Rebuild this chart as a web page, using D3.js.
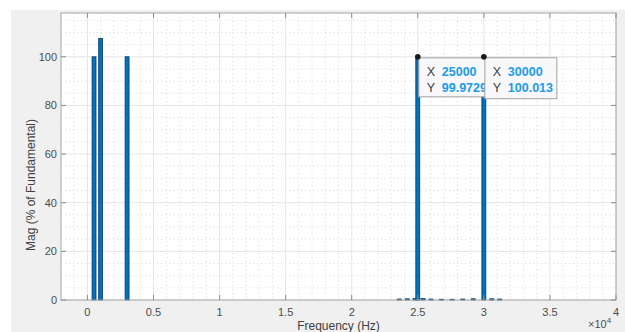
<!DOCTYPE html>
<html>
<head>
<meta charset="utf-8">
<script src="https://cdn.jsdelivr.net/npm/d3@7"></script>
<style>
  html, body { margin: 0; padding: 0; background: #fff; }
  svg { display: block; font-family: "Liberation Sans", Arial, sans-serif; }
</style>
</head>
<body>
<svg id="chart" width="625" height="332"></svg>
<script>
// ---- data ----
var freqs = [500, 1000, 3000, 23600, 24200, 24800, 25000, 25400, 26000, 26800, 27600, 28400, 29200, 30000, 30600, 31200];
var mags  = [100, 107.5, 100, 0.4, 0.5, 0.6, 99.9729, 0.6, 0.4, 0.3, 0.3, 0.4, 0.5, 100.013, 0.5, 0.4];
var xTicks = [0, 5000, 10000, 15000, 20000, 25000, 30000, 35000, 40000];
var xTickLabels = ["0", "0.5", "1", "1.5", "2", "2.5", "3", "3.5", "4"];
var yTicks = [0, 20, 40, 60, 80, 100];
var tips = [
  { x: 25000, y: 99.9729, xs: "25000", ys: "99.9729" },
  { x: 30000, y: 100.013, xs: "30000", ys: "100.013" }
];

var svg = d3.select("#chart");
var L = 61, R = 616, T = 13, B = 300;

// figure background
svg.append("rect").attr("x", 11).attr("y", 10).attr("width", 625 - 11).attr("height", 332 - 10)
  .attr("fill", "#f0f0f0");
svg.append("rect").attr("x", L).attr("y", T).attr("width", R - L).attr("height", B - T)
  .attr("fill", "#ffffff");

var x = d3.scaleLinear().domain([-2000, 40000]).range([L, R]);
var y = d3.scaleLinear().domain([0, 118]).range([B, T]);

// minor grid (dotted)
var g = svg.append("g");
d3.range(-1000, 40001, 1000).filter(function (v) { return v % 5000 !== 0; }).forEach(function (v) {
  g.append("line").attr("x1", x(v)).attr("x2", x(v)).attr("y1", T).attr("y2", B)
    .attr("stroke", "#d8d8d8").attr("stroke-width", 1).attr("stroke-dasharray", "1 3");
});
d3.range(5, 118, 5).filter(function (v) { return v % 20 !== 0; }).forEach(function (v) {
  g.append("line").attr("x1", L).attr("x2", R).attr("y1", y(v)).attr("y2", y(v))
    .attr("stroke", "#d8d8d8").attr("stroke-width", 1).attr("stroke-dasharray", "1 3");
});
// major grid
xTicks.forEach(function (v) {
  g.append("line").attr("x1", x(v)).attr("x2", x(v)).attr("y1", T).attr("y2", B)
    .attr("stroke", "#e6e6e6").attr("stroke-width", 1);
});
yTicks.forEach(function (v) {
  g.append("line").attr("x1", L).attr("x2", R).attr("y1", y(v)).attr("y2", y(v))
    .attr("stroke", "#e6e6e6").attr("stroke-width", 1);
});

// bars
var bw = x(300) - x(0);
svg.append("g").selectAll("rect").data(freqs).enter().append("rect")
  .attr("x", function (d) { return x(d) - bw / 2; })
  .attr("y", function (d, i) { return y(mags[i]); })
  .attr("width", bw)
  .attr("height", function (d, i) { return B - y(mags[i]); })
  .attr("fill", "#0072bd")
  .attr("stroke", "#0b3a66").attr("stroke-width", 0.8);

// axes box + ticks (inside)
var ax = svg.append("g");
ax.append("rect").attr("x", L).attr("y", T).attr("width", R - L).attr("height", B - T)
  .attr("fill", "none").attr("stroke", "#a6a6a6").attr("stroke-width", 1);
xTicks.forEach(function (v, i) {
  ax.append("line").attr("x1", x(v)).attr("x2", x(v)).attr("y1", B).attr("y2", B - 5).attr("stroke", "#8c8c8c");
  ax.append("line").attr("x1", x(v)).attr("x2", x(v)).attr("y1", T).attr("y2", T + 5).attr("stroke", "#8c8c8c");
  ax.append("text").attr("x", x(v)).attr("y", 316).attr("text-anchor", "middle")
    .attr("font-size", 11).attr("fill", "#4d4d4d").text(xTickLabels[i]);
});
yTicks.forEach(function (v) {
  ax.append("line").attr("x1", L).attr("x2", L + 5).attr("y1", y(v)).attr("y2", y(v)).attr("stroke", "#8c8c8c");
  ax.append("line").attr("x1", R).attr("x2", R - 5).attr("y1", y(v)).attr("y2", y(v)).attr("stroke", "#8c8c8c");
  ax.append("text").attr("x", L - 4).attr("y", y(v)).attr("dy", "0.35em").attr("text-anchor", "end")
    .attr("font-size", 11).attr("fill", "#4d4d4d").text(v);
});

// labels
svg.append("text").attr("x", (L + R) / 2).attr("y", 330).attr("text-anchor", "middle")
  .attr("font-size", 12).attr("fill", "#404040").text("Frequency (Hz)");
var ex = svg.append("text").attr("x", 588).attr("y", 328).attr("font-size", 11).attr("fill", "#4d4d4d");
ex.append("tspan").text("\u00d710");
ex.append("tspan").attr("dy", -5).attr("font-size", 8).text("4");
svg.append("text").attr("transform", "translate(35,185) rotate(-90)").attr("text-anchor", "middle")
  .attr("font-size", 12).attr("fill", "#404040").text("Mag (% of Fundamental)");

// data tips
var tipW = [70, 72], tipH = [39, 41];
tips.forEach(function (t, i) {
  var tx = x(t.x), ty = y(t.y);
  var tg = svg.append("g");
  tg.append("rect").attr("x", tx + 1).attr("y", ty + 1).attr("width", tipW[i]).attr("height", tipH[i])
    .attr("fill", "#f8f8fa").attr("stroke", "#a0a0a0").attr("stroke-width", 1);
  tg.append("text").attr("x", tx + 9).attr("y", ty + 19).attr("font-size", 12.5).attr("fill", "#404040").text("X");
  tg.append("text").attr("x", tx + 24).attr("y", ty + 19).attr("font-size", 12.5).attr("font-weight", "bold")
    .attr("fill", "#1a9bf0").text(t.xs);
  tg.append("text").attr("x", tx + 9).attr("y", ty + 35).attr("font-size", 12.5).attr("fill", "#404040").text("Y");
  tg.append("text").attr("x", tx + 24).attr("y", ty + 35).attr("font-size", 12.5).attr("font-weight", "bold")
    .attr("fill", "#1a9bf0").text(t.ys);
});
tips.forEach(function (t) {
  svg.append("circle").attr("cx", x(t.x)).attr("cy", y(t.y)).attr("r", 2.8).attr("fill", "#1a1a1a");
});
</script>
</body>
</html>
